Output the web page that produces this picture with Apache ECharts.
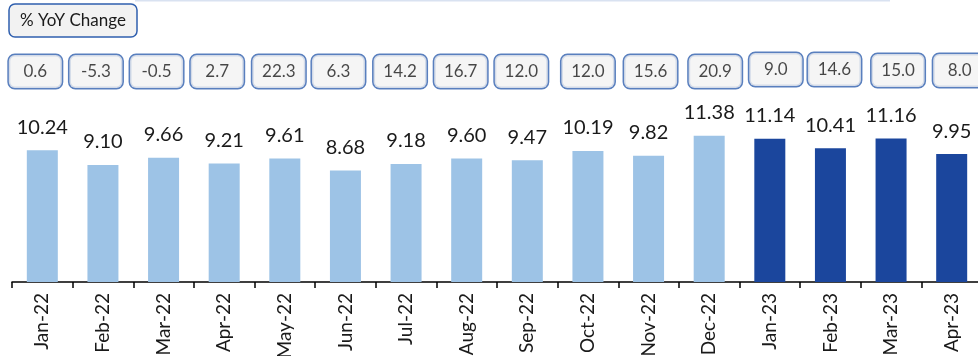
<!DOCTYPE html>
<html>
<head>
<meta charset="utf-8">
<script src="https://cdn.jsdelivr.net/npm/echarts@6/dist/echarts.min.js"></script>
<style>
  html, body { margin: 0; padding: 0; background: #fff; }
  #chart { width: 978px; height: 356px; }
</style>
</head>
<body>
<div id="chart"></div>
<script>
// Monthly values and their year-on-year change
const months = ['Jan-22','Feb-22','Mar-22','Apr-22','May-22','Jun-22','Jul-22','Aug-22',
                'Sep-22','Oct-22','Nov-22','Dec-22','Jan-23','Feb-23','Mar-23','Apr-23'];
const values = [10.24, 9.10, 9.66, 9.21, 9.61, 8.68, 9.18, 9.60,
                9.47, 10.19, 9.82, 11.38, 11.14, 10.41, 11.16, 9.95];
const yoyChange = ['0.6','-5.3','-0.5','2.7','22.3','6.3','14.2','16.7',
                   '12.0','12.0','15.6','20.9','9.0','14.6','15.0','8.0'];
const currentYear = '23';

// Small nudges for the change boxes relative to their month (layout only)
const boxShiftX = [-7,-7,-7,-7,-6,-7,-6,-6,-6,0,2,6,6,4,7,8];
const boxShiftY = [0,0,0,0,0,0,0,0,0,0,0,0,-2,-2,-1,-1];

const FONT = 'Lato, "Open Sans", sans-serif';
const LIGHT = '#9dc3e6';
const DARK = '#1b469d';

const chart = echarts.init(document.getElementById('chart'));

chart.setOption({
  animation: false,
  backgroundColor: '#ffffff',
  title: {
    text: '% YoY Change',
    left: 9,
    top: 4,
    padding: [7, 11],
    backgroundColor: '#f2f2f2',
    borderColor: '#2f5fae',
    borderWidth: 1.5,
    borderRadius: 6,
    textStyle: { fontFamily: FONT, fontSize: 17, fontWeight: 'normal', color: '#1a1a1a', lineHeight: 19 }
  },
  graphic: [{
    type: 'line',
    shape: { x1: 135, y1: 0.5, x2: 890, y2: 0.5 },
    style: { stroke: '#d9e2f1', lineWidth: 2 }
  }],
  grid: [
    { left: 12, right: -4, top: 102, bottom: 74, containLabel: false, outerBoundsMode: 'none' },
    { left: 12, right: -4, top: 58, height: 21, containLabel: false, outerBoundsMode: 'none' }
  ],
  xAxis: [{
    type: 'category',
    gridIndex: 0,
    data: months,
    axisLine: { lineStyle: { color: '#000', width: 1.5 } },
    axisTick: { show: true, length: 6, lineStyle: { color: '#000', width: 1.5 } },
    axisLabel: {
      rotate: 90,
      margin: 11,
      interval: 0,
      fontFamily: FONT,
      fontSize: 19,
      color: '#1a1a1a'
    }
  }, {
    type: 'category',
    gridIndex: 1,
    data: months,
    show: false
  }],
  yAxis: [{
    type: 'value',
    gridIndex: 0,
    min: 0,
    max: 14,
    show: false,
    splitLine: { show: false }
  }, {
    type: 'value',
    gridIndex: 1,
    min: 0,
    max: 1,
    show: false,
    splitLine: { show: false }
  }],
  series: [{
    type: 'bar',
    xAxisIndex: 0,
    yAxisIndex: 0,
    barWidth: 31,
    data: values.map((v, i) => ({
      value: v,
      itemStyle: { color: months[i].endsWith(currentYear) ? DARK : LIGHT }
    })),
    label: {
      show: true,
      position: 'top',
      distance: 13,
      formatter: p => p.value.toFixed(2),
      fontFamily: FONT,
      fontSize: 20,
      color: '#1a1a1a'
    }
  }, {
    type: 'scatter',
    xAxisIndex: 1,
    yAxisIndex: 1,
    symbolSize: 0,
    clip: false,
    data: yoyChange.map((t, i) => ({
      value: [months[i], 0.5],
      label: { offset: [boxShiftX[i], boxShiftY[i] + 3] }
    })),
    label: {
      show: true,
      position: 'inside',
      formatter: p => yoyChange[p.dataIndex],
      fontFamily: FONT,
      fontSize: 17,
      color: '#1a1a1a',
      lineHeight: 19,
      width: 53,
      align: 'center',
      padding: [7, 0],
      backgroundColor: '#f2f2f2',
      borderColor: '#2f5fae',
      borderWidth: 1.5,
      borderRadius: 6
    }
  }]
});
</script>
</body>
</html>
